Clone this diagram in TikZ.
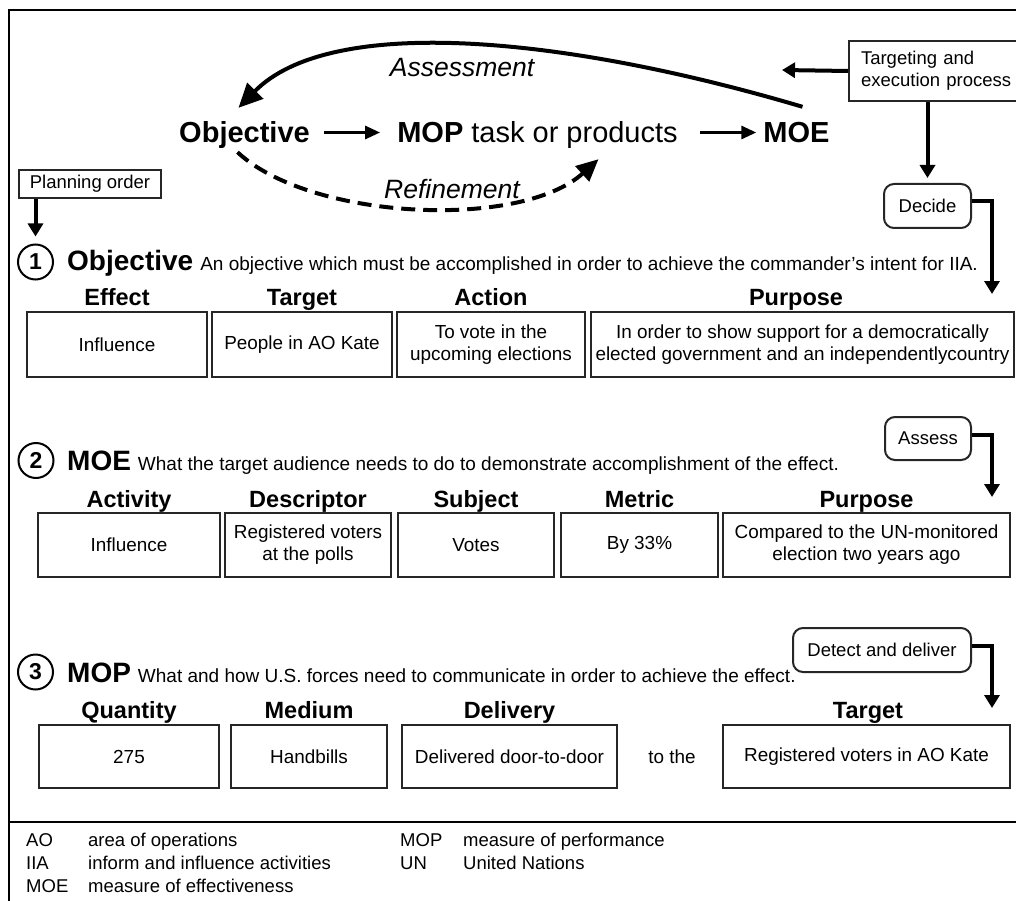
\documentclass[tikz,border=0pt]{standalone}
\usepackage{fontspec}
\setmainfont{Liberation Sans}
\usetikzlibrary{arrows.meta}
\begin{document}
\begin{tikzpicture}[x=1pt,y=-1pt,
  cell/.style={draw=black!85, line width=1.8pt, inner sep=0pt, align=center, font=\fontsize{18.9}{22}\selectfont},
  hdr/.style={font=\bfseries\fontsize{23.5}{26}\selectfont, inner sep=0pt, text height=17pt, text depth=0pt},
  rbox/.style={draw=black!85, line width=2pt, rounded corners=10pt, inner sep=0pt, font=\fontsize{18.5}{22}\selectfont},
  sqbox/.style={draw=black!85, line width=2pt, inner sep=0pt, font=\fontsize{18.5}{22}\selectfont},
  numc/.style={circle, draw, line width=2pt, minimum size=35pt, inner sep=0pt, font=\bfseries\fontsize{23}{23}\selectfont},
  sechead/.style={anchor=base west, inner sep=0pt},
  desc/.style={font=\fontsize{19}{22}\selectfont},
  toplbl/.style={inner sep=0pt, text height=21pt, text depth=0pt, font=\fontsize{29}{32}\selectfont},
  itlbl/.style={inner sep=0pt, font=\itshape\fontsize{26.5}{30}\selectfont},
  medarr/.style={line width=4pt, -{Triangle[length=13pt,width=15pt]}},
  smarr/.style={line width=3pt, -{Triangle[length=15pt,width=13pt]}},
  bigarr/.style={line width=4pt, -{Triangle[length=24pt,width=22pt]}},
  foot/.style={anchor=base west, inner sep=0pt, font=\fontsize{18.5}{22}\selectfont},
]
\useasboundingbox (0,0) rectangle (1016,901);
\clip (0,0) rectangle (1016,901);

% frame
\draw[line width=2pt] (9,905) -- (9,10) -- (1020,10);
\draw[line width=2.5pt] (9,822) -- (1020,822);

% ---------- top cycle ----------
\node[toplbl] (obj) at (244.5,132.5) {\bfseries Objective};
\node[toplbl] (mop) at (537.5,132.5) {\textbf{MOP} task or products};
\node[toplbl] (moe) at (796.5,132.5) {\bfseries MOE};
\draw[smarr, shorten <=14pt, shorten >=17pt] (obj.east) -- (mop.west);
\draw[smarr, shorten <=22pt, shorten >=7pt] (mop.east) -- (moe.west);

\draw[bigarr] ([xshift=6pt,yshift=15pt]moe.north) .. controls (560,35) and (330,15) .. ([xshift=-6pt,yshift=14pt]obj.north);
\node[itlbl] (asmt) at (462,68) {Assessment};
\draw[line width=4pt, dash pattern=on 14pt off 8pt, -{Triangle[length=22pt,width=20pt]}]
  ([xshift=-7pt,yshift=-9pt]obj.south) .. controls (310,220) and (520,230) .. ([xshift=61pt,yshift=-16pt]mop.south);
\node[itlbl] (refn) at (452,189) {Refinement};

% targeting
\node[sqbox, anchor=north west, text width=180pt, inner xsep=12pt, minimum height=60pt, align=left] (tgt) at (848,40) {Targeting and\\execution process};
\coordinate (tgtEnd) at (782,70);
\draw[medarr] (tgt.west) -- (tgtEnd);
\node[rbox, minimum width=87pt, minimum height=44pt] (dec) at (927.5,206) {Decide};
\draw[medarr, shorten >=5pt] (dec.north |- tgt.south) -- (dec.north);
\coordinate (decEnd) at (992,294);
\draw[medarr] ([yshift=5pt]dec.east) -| (decEnd);

% planning order
\node[sqbox, minimum width=142pt, minimum height=28pt] (plan) at (90,184) {Planning order};

% ---------- section 1 ----------
\node[numc] (c1) at (35.5,262) {1};
\draw[medarr, shorten >=7pt] (c1.north |- plan.south) -- (c1.north);
\node[sechead] (h1) at (67,270) {{\bfseries\fontsize{28}{30}\selectfont Objective}\hspace{7pt}{\fontsize{19}{22}\selectfont An objective which must be accomplished in order to achieve the commander’s intent for IIA.}};
\node[hdr] (e1) at (117,296.5) {Effect};
\node[hdr] (e2) at (302,296.5) {Target};
\node[hdr] (e3) at (491,296.5) {Action};
\node[hdr] (e4) at (796,296.5) {Purpose};
\node[cell, minimum width=180pt, minimum height=65pt] (b11) at (117,344.5) {Influence};
\node[cell, minimum width=180pt, minimum height=65pt] (b12) at (302,344.5) {People in AO Kate};
\node[cell, minimum width=188pt, minimum height=65pt] (b13) at (491,344.5) {To vote in the\\upcoming elections};
\node[cell, minimum width=423pt, minimum height=65pt] (b14) at (802.5,344.5) {In order to show support for a democratically\\elected government and an independentlycountry};

% ---------- section 2 ----------
\node[rbox, minimum width=86pt, minimum height=43pt] (ass) at (928,438.5) {Assess};
\coordinate (assEnd) at (992,497);
\draw[medarr] ([yshift=4pt]ass.east) -| (assEnd);
\node[numc] (c2) at (36,460.5) {2};
\node[sechead] (h2) at (67,470) {{\bfseries\fontsize{28}{30}\selectfont MOE}\hspace{7pt}{\fontsize{19}{22}\selectfont What the target audience needs to do to demonstrate accomplishment of the effect.}};
\node[hdr] (f1) at (129,499) {Activity};
\node[hdr] (f2) at (308,499) {Descriptor};
\node[hdr] (f3) at (476,499) {Subject};
\node[hdr] (f4) at (639.5,499) {Metric};
\node[hdr] (f5) at (866.5,499) {Purpose};
\node[cell, minimum width=182pt, minimum height=64pt] (b21) at (129,545) {Influence};
\node[cell, minimum width=166pt, minimum height=64pt] (b22) at (308,545) {Registered voters\\at the polls};
\node[cell, minimum width=156pt, minimum height=64pt] (b23) at (476,545) {Votes};
\node[cell, minimum width=157pt, minimum height=64pt] (b24) at (639.5,545) {By 33\%};
\node[cell, minimum width=287pt, minimum height=64pt] (b25) at (866.5,545) {Compared to the UN-monitored\\election two years ago};

% ---------- section 3 ----------
\node[rbox, minimum width=178pt, minimum height=44pt] (det) at (882,650) {Detect and deliver};
\coordinate (detEnd) at (992,708);
\draw[medarr] ([yshift=4pt]det.east) -| (detEnd);
\node[numc] (c3) at (35.5,672) {3};
\node[sechead] (h3) at (67,682) {{\bfseries\fontsize{28}{30}\selectfont MOP}\hspace{7pt}{\fontsize{19}{22}\selectfont What and how U.S. forces need to communicate in order to achieve the effect.}};
\node[hdr] (g1) at (129,710) {Quantity};
\node[hdr] (g2) at (309,710) {Medium};
\node[hdr] (g3) at (509.5,710) {Delivery};
\node[hdr] (g4) at (868,710) {Target};
\node[cell, minimum width=180pt, minimum height=63pt] (b31) at (129,756.5) {275};
\node[cell, minimum width=156pt, minimum height=63pt] (b32) at (309,756.5) {Handbills};
\node[cell, minimum width=215pt, minimum height=63pt] (b33) at (509.5,756.5) {Delivered door-to-door};
\node[inner sep=0pt, font=\fontsize{18.9}{22}\selectfont] (tothe) at (672,756.5) {to the};
\node[cell, minimum width=287pt, minimum height=63pt] (b34) at (866.5,756.5) {Registered voters in AO Kate};

% ---------- footer ----------
\node[foot] (a1) at (26,846) {AO};
\node[foot] (a1d) at (88,846) {area of operations};
\node[foot] (a2) at (26,869) {IIA};
\node[foot] (a2d) at (88,869) {inform and influence activities};
\node[foot] (a3) at (26,892) {MOE};
\node[foot] (a3d) at (88,892) {measure of effectiveness};
\node[foot] (a4) at (400,846) {MOP};
\node[foot] (a4d) at (463,846) {measure of performance};
\node[foot] (a5) at (400,869) {UN};
\node[foot] (a5d) at (463,869) {United Nations};
\end{tikzpicture}
\end{document}
